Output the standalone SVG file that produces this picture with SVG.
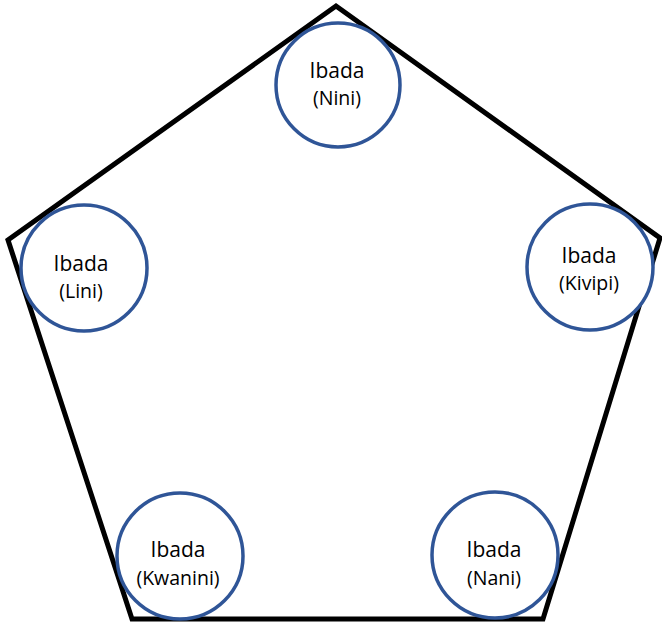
<svg xmlns="http://www.w3.org/2000/svg" width="662" height="626" viewBox="0 0 662 626">
<style>
.node circle{fill:#fff;stroke:#2F5597;stroke-width:3.5}
.t1{font-family:"Open Sans","Liberation Sans",sans-serif;font-size:21px;fill:#000;text-anchor:middle}
.t2{font-family:"Open Sans","Liberation Sans",sans-serif;font-size:19.5px;fill:#000;text-anchor:middle}
</style>
<rect width="662" height="626" fill="#fff"/>
<g id="connectors">
<polygon points="336,6 660,238 543,619 132,619 8,240" fill="none" stroke="#000" stroke-width="5" stroke-linejoin="miter"/>
</g>
<g id="node-nini" class="node">
<circle cx="338" cy="85" r="62"/>
<text class="t1" x="337" y="78">Ibada</text>
<text class="t2" x="337" y="105">(Nini)</text>
</g>
<g id="node-lini" class="node">
<circle cx="84" cy="268" r="63"/>
<text class="t1" x="81" y="271">Ibada</text>
<text class="t2" x="81" y="298">(Lini)</text>
</g>
<g id="node-kivipi" class="node">
<circle cx="590" cy="267" r="63"/>
<text class="t1" x="589" y="263">Ibada</text>
<text class="t2" x="589" y="290">(Kivipi)</text>
</g>
<g id="node-kwanini" class="node">
<circle cx="180" cy="556" r="63"/>
<text class="t1" x="178" y="557">Ibada</text>
<text class="t2" x="178" y="585">(Kwanini)</text>
</g>
<g id="node-nani" class="node">
<circle cx="495" cy="555" r="63"/>
<text class="t1" x="494" y="557">Ibada</text>
<text class="t2" x="494" y="585">(Nani)</text>
</g>
</svg>
